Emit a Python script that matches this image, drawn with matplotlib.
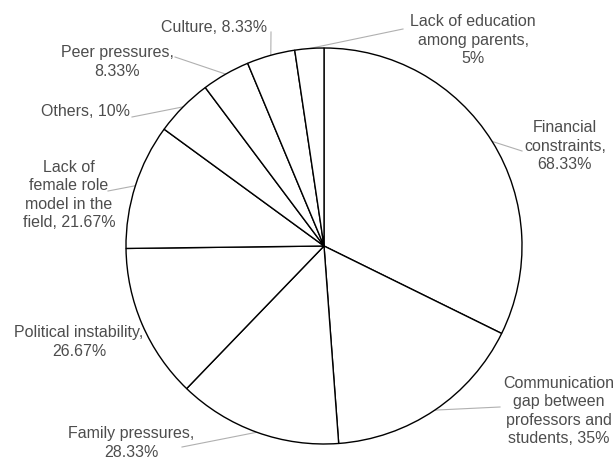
import numpy as np
import matplotlib
matplotlib.use("Agg")
import matplotlib.pyplot as plt

# ---- data ----
categories = [
    "Financial\nconstraints,\n68.33%",
    "Communication\ngap between\nprofessors and\nstudents, 35%",
    "Family pressures,\n28.33%",
    "Political instability,\n26.67%",
    "Lack of\nfemale role\nmodel in the\nfield, 21.67%",
    "Others, 10%",
    "Peer pressures,\n8.33%",
    "Culture, 8.33%",
    "Lack of education\namong parents,\n5%",
]
values = [68.33, 35, 28.33, 26.67, 21.67, 10, 8.33, 8.33, 5]

# ---- layout (pixels in the 616x459 image) ----
W, H = 616, 459
CX, CY, R = 324, 246, 198
# text centres
text_pos = [
    (565, 146), (559, 411), (131, 443), (79, 342), (69, 195),
    (85, 112), (117, 62), (214, 27), (473, 40),
]
# leader end on the text side
leader_end = [
    (522, 151), (500, 407), (182, 447), (146, 332), (108, 191),
    (132, 117), (175, 57), (271, 32), (403, 29),
]

def px(p):
    return ((p[0] - CX) / R, (CY - p[1]) / R)

fig = plt.figure(figsize=(W / 100, H / 100), dpi=100)
ax = fig.add_axes([0, 0, 1, 1])
wedges, _ = ax.pie(values, startangle=90, counterclock=False, radius=1,
                   colors=["white"] * len(values),
                   wedgeprops=dict(edgecolor="black", linewidth=1.0))
ax.set_xlim(-CX / R, (W - CX) / R)
ax.set_ylim(-(H - CY) / R, CY / R)
ax.set_aspect("auto")
ax.axis("off")

tc = "#4d4d4d"
for w, lab, tp, le in zip(wedges, categories, text_pos, leader_end):
    ang = np.deg2rad((w.theta1 + w.theta2) / 2)
    ax_pt = (np.cos(ang), np.sin(ang))
    e = px(le)
    ax.plot([ax_pt[0], e[0]], [ax_pt[1], e[1]], color="#b0b0b0", lw=0.8,
            zorder=0)
    t = px(tp)
    ax.text(t[0], t[1], lab, ha="center", va="center", multialignment="center",
            fontsize=11.5, color=tc, family="Liberation Sans", linespacing=1.27)

fig.savefig("out.png", dpi=100)
